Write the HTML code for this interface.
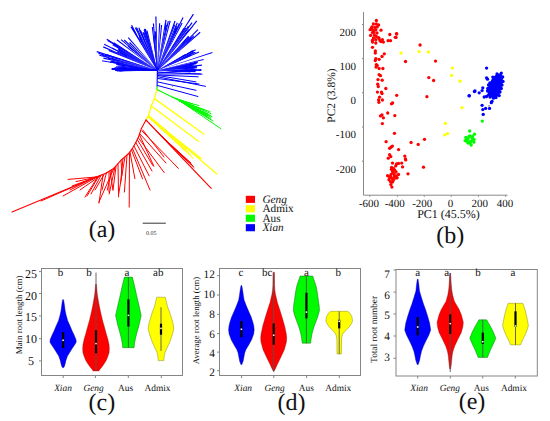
<!DOCTYPE html>
<html><head><meta charset="utf-8"><style>
html,body{margin:0;padding:0;background:#fff;width:550px;height:421px;overflow:hidden}
svg{display:block;font-family:"Liberation Serif",serif;text-rendering:geometricPrecision}
</style></head><body><svg width="550" height="421" viewBox="0 0 550 421"><g fill="none" stroke-linecap="round"><path d="M188.6 70.8L194.5 71.4" stroke="#0000ff" stroke-width="1.0"/><path d="M190.8 69.3L194.9 69.8" stroke="#0000ff" stroke-width="1.0"/><path d="M185.1 68.5L191.1 67.3" stroke="#0000ff" stroke-width="1.0"/><path d="M187.8 68.0L194.2 68.2" stroke="#0000ff" stroke-width="1.0"/><path d="M189.5 64.4L197.1 62.1" stroke="#0000ff" stroke-width="1.0"/><path d="M186.5 56.5L192.5 52.8" stroke="#0000ff" stroke-width="1.0"/><path d="M186.8 54.3L191.9 51.0" stroke="#0000ff" stroke-width="1.0"/><path d="M182.2 56.4L186.4 54.7" stroke="#0000ff" stroke-width="1.0"/><path d="M187.2 42.6L192.9 35.5" stroke="#0000ff" stroke-width="1.0"/><path d="M182.6 44.1L185.8 39.6" stroke="#0000ff" stroke-width="1.0"/><path d="M185.6 33.9L192.3 26.9" stroke="#0000ff" stroke-width="1.0"/><path d="M174.6 33.6L176.9 27.5" stroke="#0000ff" stroke-width="1.0"/><path d="M174.5 32.2L176.4 26.3" stroke="#0000ff" stroke-width="1.0"/><path d="M165.5 29.8L165.8 23.5" stroke="#0000ff" stroke-width="1.0"/><path d="M155.6 38.4L155.8 32.5" stroke="#0000ff" stroke-width="1.0"/><path d="M148.1 38.7L146.2 33.8" stroke="#0000ff" stroke-width="1.0"/><path d="M141.2 40.7L139.0 35.1" stroke="#0000ff" stroke-width="1.0"/><path d="M136.1 34.1L131.8 25.3" stroke="#0000ff" stroke-width="1.0"/><path d="M134.2 51.1L129.8 48.0" stroke="#0000ff" stroke-width="1.0"/><path d="M120.5 49.3L113.2 43.8" stroke="#0000ff" stroke-width="1.0"/><path d="M126.9 56.5L121.1 52.9" stroke="#0000ff" stroke-width="1.0"/><path d="M108.4 57.6L102.1 55.0" stroke="#0000ff" stroke-width="1.0"/><path d="M118.4 60.7L112.1 58.5" stroke="#0000ff" stroke-width="1.0"/><path d="M121.5 63.3L112.4 62.3" stroke="#0000ff" stroke-width="1.0"/><path d="M125.9 68.3L119.8 68.3" stroke="#0000ff" stroke-width="1.0"/><path d="M121.0 68.9L116.8 68.1" stroke="#0000ff" stroke-width="1.0"/><path d="M124.5 70.5L120.0 71.1" stroke="#0000ff" stroke-width="1.0"/><path d="M157.3 70.5L112.0 69.5" stroke="#0000ff" stroke-width="1.0"/><path d="M157.3 70.5L113.5 68.6" stroke="#0000ff" stroke-width="1.0"/><path d="M157.3 70.5L115.0 67.7" stroke="#0000ff" stroke-width="1.0"/><path d="M157.3 70.5L116.5 66.8" stroke="#0000ff" stroke-width="1.0"/><path d="M157.3 70.5L118.0 65.9" stroke="#0000ff" stroke-width="1.0"/><path d="M157.3 70.5L119.5 65.0" stroke="#0000ff" stroke-width="1.0"/><path d="M157.4 70.0L157.1 86.3" stroke="#0000ff" stroke-width="1.1"/><path d="M157.6 72.0L202.0 74.2" stroke="#0000ff" stroke-width="1.0"/><path d="M157.6 73.0L201.0 69.5" stroke="#0000ff" stroke-width="1.0"/><path d="M157.6 74.0L200.4 73.9" stroke="#0000ff" stroke-width="1.0"/><path d="M157.6 75.0L198.2 76.8" stroke="#0000ff" stroke-width="1.0"/><path d="M157.6 75.4L196.0 81.9" stroke="#0000ff" stroke-width="1.0"/><path d="M157.6 76.8L205.5 86.3" stroke="#0000ff" stroke-width="1.0"/><path d="M157.6 78.5L199.0 84.0" stroke="#0000ff" stroke-width="1.0"/><path d="M157.6 81.9L196.0 90.3" stroke="#0000ff" stroke-width="1.0"/><path d="M157.6 85.5L197.9 96.5" stroke="#0000ff" stroke-width="1.0"/><path d="M157.1 86.3L156.8 90.2" stroke="#00fa00" stroke-width="1.1"/><path d="M156.9 89.6L179.3 100.6" stroke="#00fa00" stroke-width="1.1"/><path d="M179.3 100.6L199.0 105.5" stroke="#00fa00" stroke-width="1.0"/><path d="M179.3 100.6L210.0 111.8" stroke="#00fa00" stroke-width="1.0"/><path d="M179.3 100.6L210.9 113.6" stroke="#00fa00" stroke-width="1.0"/><path d="M179.3 100.6L210.0 115.5" stroke="#00fa00" stroke-width="1.0"/><path d="M179.3 100.6L210.9 119.0" stroke="#00fa00" stroke-width="1.0"/><path d="M179.3 100.6L220.9 128.7" stroke="#00fa00" stroke-width="1.0"/><path d="M179.3 100.6L207.0 117.0" stroke="#00fa00" stroke-width="1.0"/><path d="M179.3 100.6L212.0 116.5" stroke="#00fa00" stroke-width="1.0"/><path d="M179.3 100.6L205.0 110.0" stroke="#00fa00" stroke-width="1.0"/><path d="M179.3 100.6L213.0 121.0" stroke="#00fa00" stroke-width="1.0"/><path d="M179.3 100.6L208.0 114.0" stroke="#00fa00" stroke-width="1.0"/><path d="M179.3 100.6L211.0 117.5" stroke="#00fa00" stroke-width="1.0"/><path d="M172.0 97.0L193.0 104.0" stroke="#00fa00" stroke-width="1.0"/><path d="M183.0 103.0L206.0 114.0" stroke="#00fa00" stroke-width="1.0"/><path d="M186.0 104.0L208.0 116.0" stroke="#00fa00" stroke-width="1.0"/><path d="M156.8 90.0L154.5 98.6" stroke="#ffff00" stroke-width="1.3"/><path d="M154.5 98.6L151.3 106.0" stroke="#ffff00" stroke-width="1.3"/><path d="M151.3 106.0L148.5 115.6" stroke="#ffff00" stroke-width="1.3"/><path d="M148.5 115.6L146.0 120.0" stroke="#ffff00" stroke-width="1.3"/><path d="M154.5 98.6L204.0 134.2" stroke="#ffff00" stroke-width="1.3"/><path d="M151.3 106.0L198.4 141.3" stroke="#ffff00" stroke-width="1.3"/><path d="M148.5 115.6L216.9 174.0" stroke="#ffff00" stroke-width="1.3"/><path d="M148.2 116.8L201.2 158.4" stroke="#ffff00" stroke-width="1.3"/><path d="M149.0 117.5L186.0 149.0" stroke="#ffff00" stroke-width="1.0"/><path d="M149.4 117.9L188.5 152.2" stroke="#ffff00" stroke-width="1.0"/><path d="M149.8 118.3L191.0 155.4" stroke="#ffff00" stroke-width="1.0"/><path d="M150.2 118.7L193.5 158.6" stroke="#ffff00" stroke-width="1.0"/><path d="M146.0 120.0L141.4 128.5" stroke="#ff0000" stroke-width="1.1"/><path d="M141.4 128.5L138.5 137.0" stroke="#ff0000" stroke-width="1.1"/><path d="M138.5 137.0L135.8 142.6" stroke="#ff0000" stroke-width="1.1"/><path d="M135.8 142.6L132.0 149.2" stroke="#ff0000" stroke-width="1.1"/><path d="M132.0 149.2L128.2 154.0" stroke="#ff0000" stroke-width="1.1"/><path d="M128.2 154.0L121.6 159.7" stroke="#ff0000" stroke-width="1.1"/><path d="M121.6 159.7L114.0 168.2" stroke="#ff0000" stroke-width="1.1"/><path d="M114.0 168.2L106.4 173.0" stroke="#ff0000" stroke-width="1.1"/><path d="M106.4 173.0L96.0 177.0" stroke="#ff0000" stroke-width="1.1"/><path d="M96.0 177.0L12.0 212.0" stroke="#ff0000" stroke-width="1.1"/><path d="M90.0 179.5L41.0 201.0" stroke="#ff0000" stroke-width="1.0"/><path d="M146.0 120.0L211.2 188.3" stroke="#ff0000" stroke-width="1.1"/><path d="M156.0 130.5L193.0 166.0" stroke="#ff0000" stroke-width="1.0"/><path d="M160.0 135.0L191.0 163.0" stroke="#ff0000" stroke-width="1.0"/><path d="M165.0 140.0L194.0 167.5" stroke="#ff0000" stroke-width="1.0"/><path d="M170.0 145.0L188.0 161.0" stroke="#ff0000" stroke-width="1.0"/><path d="M162.0 137.0L186.0 159.0" stroke="#ff0000" stroke-width="1.0"/><path d="M142.8 130.0L164.0 157.0" stroke="#ff0000" stroke-width="1.0"/><path d="M142.0 131.0L178.4 168.4" stroke="#ff0000" stroke-width="1.0"/><path d="M140.0 134.0L166.0 163.0" stroke="#ff0000" stroke-width="1.0"/><path d="M138.5 138.0L164.2 172.6" stroke="#ff0000" stroke-width="1.0"/><path d="M137.5 140.0L152.8 165.5" stroke="#ff0000" stroke-width="1.0"/><path d="M139.6 135.0L153.9 166.3" stroke="#ff0000" stroke-width="1.0"/><path d="M135.8 142.6L152.0 171.0" stroke="#ff0000" stroke-width="1.0"/><path d="M134.0 146.0L149.1 175.8" stroke="#ff0000" stroke-width="1.0"/><path d="M132.5 148.5L150.0 190.0" stroke="#ff0000" stroke-width="1.0"/><path d="M131.5 150.0L142.5 178.7" stroke="#ff0000" stroke-width="1.0"/><path d="M130.0 152.0L134.9 178.7" stroke="#ff0000" stroke-width="1.0"/><path d="M129.5 152.5L129.2 207.1" stroke="#ff0000" stroke-width="1.0"/><path d="M127.0 155.0L124.4 192.0" stroke="#ff0000" stroke-width="1.0"/><path d="M125.0 157.0L118.7 193.9" stroke="#ff0000" stroke-width="1.0"/><path d="M123.0 158.5L120.6 182.5" stroke="#ff0000" stroke-width="1.0"/><path d="M121.0 160.5L122.0 175.0" stroke="#ff0000" stroke-width="1.0"/><path d="M114.9 167.5L109.2 193.9" stroke="#ff0000" stroke-width="1.0"/><path d="M114.0 168.2L98.8 202.4" stroke="#ff0000" stroke-width="1.0"/><path d="M112.0 169.5L107.3 190.0" stroke="#ff0000" stroke-width="1.0"/><path d="M116.0 166.5L113.0 190.0" stroke="#ff0000" stroke-width="1.0"/><path d="M118.0 164.0L118.6 196.9" stroke="#ff0000" stroke-width="1.0"/><path d="M109.0 171.5L109.0 192.0" stroke="#ff0000" stroke-width="1.0"/><path d="M110.0 171.0L113.0 190.0" stroke="#ff0000" stroke-width="1.0"/><path d="M96.0 177.0L68.0 179.4" stroke="#ff0000" stroke-width="1.0"/><path d="M97.0 177.0L76.0 181.6" stroke="#ff0000" stroke-width="1.0"/><path d="M97.0 177.0L63.0 196.0" stroke="#ff0000" stroke-width="1.0"/><path d="M98.0 176.5L85.0 197.0" stroke="#ff0000" stroke-width="1.0"/><path d="M99.0 176.0L87.0 196.0" stroke="#ff0000" stroke-width="1.0"/><path d="M101.0 175.5L91.0 194.0" stroke="#ff0000" stroke-width="1.0"/><path d="M103.0 175.0L99.0 203.0" stroke="#ff0000" stroke-width="1.0"/><path d="M104.0 174.5L95.0 190.0" stroke="#ff0000" stroke-width="1.0"/><path d="M100.0 176.0L80.0 190.0" stroke="#ff0000" stroke-width="1.0"/><path d="M106.4 173.0L102.0 190.0" stroke="#ff0000" stroke-width="1.0"/><path d="M95.0 177.5L72.0 186.0" stroke="#ff0000" stroke-width="1.0"/><path d="M93.0 178.3L70.0 190.0" stroke="#ff0000" stroke-width="1.0"/></g><g><path d="M157.30 70.60 L201.40 71.10 L201.40 69.90 L157.30 70.40Z" fill="#0000ff"/><path d="M157.32 70.60 L203.74 60.05 L203.47 58.89 L157.28 70.40Z" fill="#0000ff"/><path d="M157.33 70.60 L212.62 53.05 L212.24 51.91 L157.27 70.40Z" fill="#0000ff"/><path d="M157.34 70.59 L199.23 52.57 L198.75 51.48 L157.26 70.41Z" fill="#0000ff"/><path d="M157.35 70.59 L195.90 50.22 L195.33 49.17 L157.25 70.41Z" fill="#0000ff"/><path d="M157.37 70.57 L200.56 32.76 L199.76 31.87 L157.23 70.43Z" fill="#0000ff"/><path d="M157.38 70.56 L197.24 21.26 L196.30 20.51 L157.22 70.44Z" fill="#0000ff"/><path d="M157.38 70.55 L193.90 14.38 L192.89 13.73 L157.22 70.45Z" fill="#0000ff"/><path d="M157.39 70.54 L183.57 17.78 L182.49 17.25 L157.21 70.46Z" fill="#0000ff"/><path d="M157.39 70.53 L175.60 21.18 L174.47 20.78 L157.21 70.47Z" fill="#0000ff"/><path d="M157.40 70.52 L166.55 19.94 L165.37 19.73 L157.20 70.48Z" fill="#0000ff"/><path d="M157.40 70.50 L156.48 16.40 L155.28 16.43 L157.20 70.50Z" fill="#0000ff"/><path d="M157.40 70.49 L152.96 27.11 L151.77 27.25 L157.20 70.51Z" fill="#0000ff"/><path d="M157.40 70.47 L145.08 28.75 L143.94 29.10 L157.20 70.53Z" fill="#0000ff"/><path d="M157.39 70.46 L139.42 27.46 L138.32 27.94 L157.21 70.54Z" fill="#0000ff"/><path d="M157.39 70.45 L131.52 26.26 L130.49 26.88 L157.21 70.55Z" fill="#0000ff"/><path d="M157.38 70.43 L128.72 37.17 L127.82 37.97 L157.22 70.57Z" fill="#0000ff"/><path d="M157.36 70.42 L121.49 39.13 L120.72 40.04 L157.24 70.58Z" fill="#0000ff"/><path d="M157.35 70.41 L107.08 38.78 L106.45 39.80 L157.25 70.59Z" fill="#0000ff"/><path d="M157.34 70.41 L104.40 43.69 L103.87 44.76 L157.26 70.59Z" fill="#0000ff"/><path d="M157.33 70.40 L96.95 51.07 L96.59 52.22 L157.27 70.60Z" fill="#0000ff"/><path d="M157.32 70.40 L102.25 60.18 L102.05 61.37 L157.28 70.60Z" fill="#0000ff"/><path d="M157.30 70.40 L111.67 67.99 L111.61 69.19 L157.30 70.60Z" fill="#0000ff"/><path d="M157.30 70.60 L190.78 72.60 L190.83 71.40 L157.30 70.40Z" fill="#0000ff"/><path d="M157.30 70.60 L195.57 72.19 L195.60 70.99 L157.30 70.40Z" fill="#0000ff"/><path d="M157.30 70.60 L195.29 71.46 L195.30 70.26 L157.30 70.40Z" fill="#0000ff"/><path d="M157.30 70.60 L196.17 70.72 L196.15 69.52 L157.30 70.40Z" fill="#0000ff"/><path d="M157.30 70.60 L196.72 69.70 L196.67 68.50 L157.30 70.40Z" fill="#0000ff"/><path d="M157.31 70.60 L193.46 68.44 L193.37 67.24 L157.29 70.40Z" fill="#0000ff"/><path d="M157.31 70.60 L197.11 67.79 L197.01 66.59 L157.29 70.40Z" fill="#0000ff"/><path d="M157.31 70.60 L196.82 66.95 L196.70 65.76 L157.29 70.40Z" fill="#0000ff"/><path d="M157.31 70.60 L201.98 65.63 L201.83 64.44 L157.29 70.40Z" fill="#0000ff"/><path d="M157.31 70.60 L192.60 66.24 L192.44 65.05 L157.29 70.40Z" fill="#0000ff"/><path d="M157.32 70.60 L194.25 65.42 L194.07 64.23 L157.28 70.40Z" fill="#0000ff"/><path d="M157.32 70.60 L196.30 64.30 L196.09 63.12 L157.28 70.40Z" fill="#0000ff"/><path d="M157.32 70.60 L197.20 63.54 L196.97 62.36 L157.28 70.40Z" fill="#0000ff"/><path d="M157.32 70.60 L197.89 62.67 L197.64 61.50 L157.28 70.40Z" fill="#0000ff"/><path d="M157.34 70.59 L191.20 55.73 L190.70 54.64 L157.26 70.41Z" fill="#0000ff"/><path d="M157.34 70.59 L195.72 52.76 L195.20 51.68 L157.26 70.41Z" fill="#0000ff"/><path d="M157.34 70.59 L193.95 52.79 L193.41 51.72 L157.26 70.41Z" fill="#0000ff"/><path d="M157.35 70.59 L193.76 51.13 L193.18 50.08 L157.25 70.41Z" fill="#0000ff"/><path d="M157.35 70.59 L185.83 55.03 L185.24 53.99 L157.25 70.41Z" fill="#0000ff"/><path d="M157.37 70.57 L194.28 36.87 L193.46 35.99 L157.23 70.43Z" fill="#0000ff"/><path d="M157.37 70.57 L191.42 38.11 L190.59 37.26 L157.23 70.43Z" fill="#0000ff"/><path d="M157.37 70.57 L198.34 30.11 L197.49 29.26 L157.23 70.43Z" fill="#0000ff"/><path d="M157.37 70.57 L189.75 37.44 L188.88 36.61 L157.23 70.43Z" fill="#0000ff"/><path d="M157.37 70.57 L189.02 36.56 L188.13 35.75 L157.23 70.43Z" fill="#0000ff"/><path d="M157.38 70.56 L189.39 29.97 L188.44 29.23 L157.22 70.44Z" fill="#0000ff"/><path d="M157.38 70.56 L192.54 23.05 L191.57 22.34 L157.22 70.44Z" fill="#0000ff"/><path d="M157.38 70.56 L189.05 26.35 L188.06 25.66 L157.22 70.44Z" fill="#0000ff"/><path d="M157.38 70.56 L186.25 28.14 L185.25 27.48 L157.22 70.44Z" fill="#0000ff"/><path d="M157.38 70.55 L184.48 28.55 L183.46 27.91 L157.22 70.45Z" fill="#0000ff"/><path d="M157.39 70.55 L182.62 23.32 L181.56 22.77 L157.21 70.45Z" fill="#0000ff"/><path d="M157.39 70.54 L179.90 23.81 L178.82 23.30 L157.21 70.46Z" fill="#0000ff"/><path d="M157.39 70.54 L177.05 27.90 L175.96 27.41 L157.21 70.46Z" fill="#0000ff"/><path d="M157.39 70.54 L177.87 22.97 L176.77 22.51 L157.21 70.46Z" fill="#0000ff"/><path d="M157.39 70.54 L175.31 24.81 L174.19 24.39 L157.21 70.46Z" fill="#0000ff"/><path d="M157.40 70.53 L170.73 21.01 L169.57 20.71 L157.20 70.47Z" fill="#0000ff"/><path d="M157.40 70.52 L168.88 21.34 L167.71 21.08 L157.20 70.48Z" fill="#0000ff"/><path d="M157.40 70.52 L167.09 25.09 L165.92 24.85 L157.20 70.48Z" fill="#0000ff"/><path d="M157.40 70.51 L162.15 25.03 L160.95 24.92 L157.20 70.49Z" fill="#0000ff"/><path d="M157.40 70.50 L160.24 23.28 L159.04 23.22 L157.20 70.50Z" fill="#0000ff"/><path d="M157.40 70.49 L155.78 31.21 L154.58 31.27 L157.20 70.51Z" fill="#0000ff"/><path d="M157.40 70.49 L154.01 23.43 L152.81 23.53 L157.20 70.51Z" fill="#0000ff"/><path d="M157.40 70.49 L154.22 36.29 L153.03 36.42 L157.20 70.51Z" fill="#0000ff"/><path d="M157.40 70.47 L147.48 30.49 L146.32 30.80 L157.20 70.53Z" fill="#0000ff"/><path d="M157.40 70.47 L145.84 28.85 L144.69 29.18 L157.20 70.53Z" fill="#0000ff"/><path d="M157.40 70.47 L144.69 29.69 L143.55 30.06 L157.20 70.53Z" fill="#0000ff"/><path d="M157.39 70.47 L144.48 32.28 L143.35 32.68 L157.21 70.53Z" fill="#0000ff"/><path d="M157.39 70.46 L143.48 31.96 L142.36 32.38 L157.21 70.54Z" fill="#0000ff"/><path d="M157.39 70.46 L141.18 30.53 L140.08 31.00 L157.21 70.54Z" fill="#0000ff"/><path d="M157.39 70.46 L140.09 29.89 L138.99 30.37 L157.21 70.54Z" fill="#0000ff"/><path d="M157.39 70.46 L137.00 27.25 L135.92 27.78 L157.21 70.54Z" fill="#0000ff"/><path d="M157.39 70.45 L135.95 27.35 L134.88 27.90 L157.21 70.55Z" fill="#0000ff"/><path d="M157.39 70.45 L139.99 37.19 L138.94 37.76 L157.21 70.55Z" fill="#0000ff"/><path d="M157.39 70.45 L132.72 27.08 L131.68 27.69 L157.21 70.55Z" fill="#0000ff"/><path d="M157.37 70.43 L129.97 42.09 L129.12 42.94 L157.23 70.57Z" fill="#0000ff"/><path d="M157.37 70.43 L124.62 39.62 L123.81 40.50 L157.23 70.57Z" fill="#0000ff"/><path d="M157.36 70.42 L128.48 45.52 L127.71 46.44 L157.24 70.58Z" fill="#0000ff"/><path d="M157.36 70.42 L117.21 39.36 L116.49 40.31 L157.24 70.58Z" fill="#0000ff"/><path d="M157.35 70.42 L114.05 42.32 L113.41 43.33 L157.25 70.58Z" fill="#0000ff"/><path d="M157.35 70.41 L107.99 39.91 L107.37 40.93 L157.25 70.59Z" fill="#0000ff"/><path d="M157.35 70.41 L113.01 44.32 L112.41 45.36 L157.25 70.59Z" fill="#0000ff"/><path d="M157.35 70.41 L118.15 48.13 L117.57 49.18 L157.25 70.59Z" fill="#0000ff"/><path d="M157.35 70.41 L118.88 49.58 L118.32 50.64 L157.25 70.59Z" fill="#0000ff"/><path d="M157.34 70.41 L112.07 47.52 L111.54 48.60 L157.26 70.59Z" fill="#0000ff"/><path d="M157.34 70.41 L117.46 51.45 L116.96 52.54 L157.26 70.59Z" fill="#0000ff"/><path d="M157.34 70.41 L103.47 46.28 L102.99 47.38 L157.26 70.59Z" fill="#0000ff"/><path d="M157.34 70.41 L108.97 49.80 L108.51 50.91 L157.26 70.59Z" fill="#0000ff"/><path d="M157.33 70.40 L106.25 54.00 L105.89 55.15 L157.27 70.60Z" fill="#0000ff"/><path d="M157.33 70.40 L98.61 52.79 L98.28 53.94 L157.27 70.60Z" fill="#0000ff"/><path d="M157.33 70.40 L99.58 54.67 L99.28 55.83 L157.27 70.60Z" fill="#0000ff"/><path d="M157.32 70.40 L108.21 57.54 L107.92 58.70 L157.28 70.60Z" fill="#0000ff"/><path d="M157.32 70.40 L103.55 57.55 L103.28 58.72 L157.28 70.60Z" fill="#0000ff"/><path d="M157.32 70.40 L111.14 60.61 L110.91 61.79 L157.28 70.60Z" fill="#0000ff"/><path d="M157.32 70.40 L109.93 61.23 L109.71 62.42 L157.28 70.60Z" fill="#0000ff"/><path d="M157.32 70.40 L116.22 63.49 L116.04 64.68 L157.28 70.60Z" fill="#0000ff"/><path d="M157.31 70.40 L118.32 67.10 L118.24 68.30 L157.29 70.60Z" fill="#0000ff"/><path d="M157.31 70.40 L123.32 67.91 L123.25 69.11 L157.29 70.60Z" fill="#0000ff"/><path d="M157.30 70.40 L117.81 68.19 L117.76 69.39 L157.30 70.60Z" fill="#0000ff"/><path d="M157.30 70.40 L124.12 68.82 L124.08 70.02 L157.30 70.60Z" fill="#0000ff"/><path d="M157.30 70.40 L123.26 69.26 L123.23 70.46 L157.30 70.60Z" fill="#0000ff"/><path d="M157.30 70.40 L115.06 69.91 L115.06 71.11 L157.30 70.60Z" fill="#0000ff"/><path d="M157.30 70.40 L116.86 70.18 L116.87 71.38 L157.30 70.60Z" fill="#0000ff"/></g><rect x="245.8" y="195.80" width="9.2" height="7.1" fill="#ff0000"/><rect x="245.8" y="205.25" width="9.2" height="7.1" fill="#ffff00"/><rect x="245.8" y="214.70" width="9.2" height="7.1" fill="#00fa00"/><rect x="245.8" y="224.15" width="9.2" height="7.1" fill="#0000ff"/><g font-family="Liberation Serif" font-size="11.3" fill="#111"><text x="262.4" y="203" font-style="italic">Geng</text><text x="262.4" y="212.4">Admix</text><text x="262.4" y="221.6">Aus</text><text x="262.4" y="231" font-style="italic">Xian</text></g><text x="102" y="236.7" font-family="Liberation Serif" font-size="24" fill="#111" text-anchor="middle">(a)</text><line x1="142.7" y1="223.2" x2="165.8" y2="223.2" stroke="#333" stroke-width="1"/><text x="146.1" y="234.6" font-family="Liberation Serif" font-size="6" fill="#333">0.05</text><path d="M363.5 12V195.2H507.6" fill="none" stroke="#888" stroke-width="1"/><line x1="362.0" y1="24.5" x2="363.5" y2="24.5" stroke="#888" stroke-width="1"/><text x="356" y="35.8" font-family="Liberation Serif" font-size="11" fill="#111" text-anchor="end">200</text><line x1="362.0" y1="58.6" x2="363.5" y2="58.6" stroke="#888" stroke-width="1"/><text x="356" y="69.9" font-family="Liberation Serif" font-size="11" fill="#111" text-anchor="end">100</text><line x1="362.0" y1="92.7" x2="363.5" y2="92.7" stroke="#888" stroke-width="1"/><text x="356" y="104.0" font-family="Liberation Serif" font-size="11" fill="#111" text-anchor="end">0</text><line x1="362.0" y1="127.0" x2="363.5" y2="127.0" stroke="#888" stroke-width="1"/><text x="356" y="138.3" font-family="Liberation Serif" font-size="11" fill="#111" text-anchor="end">-100</text><line x1="362.0" y1="161.2" x2="363.5" y2="161.2" stroke="#888" stroke-width="1"/><text x="356" y="172.5" font-family="Liberation Serif" font-size="11" fill="#111" text-anchor="end">-200</text><line x1="369.8" y1="195.2" x2="369.8" y2="197.0" stroke="#888" stroke-width="0.8"/><line x1="397.4" y1="195.2" x2="397.4" y2="197.0" stroke="#888" stroke-width="0.8"/><line x1="424.3" y1="195.2" x2="424.3" y2="197.0" stroke="#888" stroke-width="0.8"/><line x1="451.2" y1="195.2" x2="451.2" y2="197.0" stroke="#888" stroke-width="0.8"/><line x1="478.4" y1="195.2" x2="478.4" y2="197.0" stroke="#888" stroke-width="0.8"/><line x1="505.6" y1="195.2" x2="505.6" y2="197.0" stroke="#888" stroke-width="0.8"/><text x="369" y="206.6" font-family="Liberation Serif" font-size="11" fill="#111" text-anchor="middle">-600</text><text x="394.8" y="206.6" font-family="Liberation Serif" font-size="11" fill="#111" text-anchor="middle">-400</text><text x="422.3" y="206.6" font-family="Liberation Serif" font-size="11" fill="#111" text-anchor="middle">-200</text><text x="450.5" y="206.6" font-family="Liberation Serif" font-size="11" fill="#111" text-anchor="middle">0</text><text x="479.8" y="206.6" font-family="Liberation Serif" font-size="11" fill="#111" text-anchor="middle">200</text><text x="505" y="206.6" font-family="Liberation Serif" font-size="11" fill="#111" text-anchor="middle">400</text><text x="448.5" y="218.3" font-family="Liberation Serif" font-size="12" fill="#111" text-anchor="middle">PC1 (45.5%)</text><text transform="translate(335.3 95.6) rotate(-90)" font-family="Liberation Serif" font-size="11.5" fill="#111" text-anchor="middle">PC2 (3.8%)</text><text x="450.2" y="242.7" font-family="Liberation Serif" font-size="24" fill="#111" text-anchor="middle">(b)</text><g><path d="M492.8 77.1 L497.0 74.0 L501.3 73.1 L502.7 77.0 L503.0 81.4 L502.0 85.0 L501.3 88.5 L500.0 92.0 L499.2 95.6 L496.0 97.5 L493.5 98.2 L490.0 97.0 L488.5 94.9 L487.5 91.0 L487.8 88.5 L488.5 85.0 L489.9 82.8Z" fill="#0000ff"/><circle cx="492.8" cy="77.1" r="1.65" fill="#0000ff"/><circle cx="497.0" cy="74.0" r="1.65" fill="#0000ff"/><circle cx="501.3" cy="73.1" r="1.65" fill="#0000ff"/><circle cx="502.7" cy="77.0" r="1.65" fill="#0000ff"/><circle cx="503.0" cy="81.4" r="1.65" fill="#0000ff"/><circle cx="502.0" cy="85.0" r="1.65" fill="#0000ff"/><circle cx="501.3" cy="88.5" r="1.65" fill="#0000ff"/><circle cx="500.0" cy="92.0" r="1.65" fill="#0000ff"/><circle cx="499.2" cy="95.6" r="1.65" fill="#0000ff"/><circle cx="496.0" cy="97.5" r="1.65" fill="#0000ff"/><circle cx="493.5" cy="98.2" r="1.65" fill="#0000ff"/><circle cx="490.0" cy="97.0" r="1.65" fill="#0000ff"/><circle cx="488.5" cy="94.9" r="1.65" fill="#0000ff"/><circle cx="487.5" cy="91.0" r="1.65" fill="#0000ff"/><circle cx="487.8" cy="88.5" r="1.65" fill="#0000ff"/><circle cx="488.5" cy="85.0" r="1.65" fill="#0000ff"/><circle cx="489.9" cy="82.8" r="1.65" fill="#0000ff"/><circle cx="486.6" cy="68.1" r="1.65" fill="#0000ff"/><circle cx="486.6" cy="77.8" r="1.65" fill="#0000ff"/><circle cx="487.5" cy="79.2" r="1.65" fill="#0000ff"/><circle cx="482.8" cy="87.8" r="1.65" fill="#0000ff"/><circle cx="482.1" cy="90.6" r="1.65" fill="#0000ff"/><circle cx="475" cy="91" r="1.65" fill="#0000ff"/><circle cx="479.2" cy="92.8" r="1.65" fill="#0000ff"/><circle cx="469.3" cy="95.6" r="1.65" fill="#0000ff"/><circle cx="484.2" cy="97" r="1.65" fill="#0000ff"/><circle cx="486.5" cy="96.5" r="1.65" fill="#0000ff"/><circle cx="492" cy="101.3" r="1.65" fill="#0000ff"/><circle cx="491.3" cy="102.7" r="1.65" fill="#0000ff"/><circle cx="482.1" cy="105.3" r="1.65" fill="#0000ff"/><circle cx="482.8" cy="109.6" r="1.65" fill="#0000ff"/><circle cx="485.6" cy="108.4" r="1.65" fill="#0000ff"/><circle cx="489.5" cy="108.4" r="1.65" fill="#0000ff"/><circle cx="483.2" cy="114.4" r="1.65" fill="#0000ff"/><circle cx="474.4" cy="91.5" r="1.65" fill="#0000ff"/><circle cx="469.1" cy="95.9" r="1.65" fill="#0000ff"/><circle cx="376.4" cy="20.5" r="1.65" fill="#ff0000"/><circle cx="373.4" cy="24" r="1.65" fill="#ff0000"/><circle cx="376.3" cy="24" r="1.65" fill="#ff0000"/><circle cx="378.6" cy="25" r="1.65" fill="#ff0000"/><circle cx="372" cy="26.9" r="1.65" fill="#ff0000"/><circle cx="374.8" cy="27.4" r="1.65" fill="#ff0000"/><circle cx="377.2" cy="26.9" r="1.65" fill="#ff0000"/><circle cx="370.1" cy="29.7" r="1.65" fill="#ff0000"/><circle cx="372.9" cy="30.2" r="1.65" fill="#ff0000"/><circle cx="375.8" cy="29.7" r="1.65" fill="#ff0000"/><circle cx="381" cy="30.2" r="1.65" fill="#ff0000"/><circle cx="372.5" cy="32.6" r="1.65" fill="#ff0000"/><circle cx="370.6" cy="35.4" r="1.65" fill="#ff0000"/><circle cx="374.4" cy="35" r="1.65" fill="#ff0000"/><circle cx="376.3" cy="36.4" r="1.65" fill="#ff0000"/><circle cx="378.6" cy="37.6" r="1.65" fill="#ff0000"/><circle cx="389.8" cy="34.5" r="1.65" fill="#ff0000"/><circle cx="396.7" cy="34" r="1.65" fill="#ff0000"/><circle cx="395.3" cy="37.3" r="1.65" fill="#ff0000"/><circle cx="372.5" cy="40.2" r="1.65" fill="#ff0000"/><circle cx="375.8" cy="39.7" r="1.65" fill="#ff0000"/><circle cx="372.5" cy="42.1" r="1.65" fill="#ff0000"/><circle cx="375.8" cy="43" r="1.65" fill="#ff0000"/><circle cx="380" cy="40.7" r="1.65" fill="#ff0000"/><circle cx="382.4" cy="39.7" r="1.65" fill="#ff0000"/><circle cx="383.4" cy="42.1" r="1.65" fill="#ff0000"/><circle cx="388.1" cy="40.7" r="1.65" fill="#ff0000"/><circle cx="390.5" cy="40.7" r="1.65" fill="#ff0000"/><circle cx="372.5" cy="47.3" r="1.65" fill="#ff0000"/><circle cx="375.3" cy="50.9" r="1.65" fill="#ff0000"/><circle cx="375.3" cy="53" r="1.65" fill="#ff0000"/><circle cx="384.3" cy="53.8" r="1.65" fill="#ff0000"/><circle cx="382" cy="56.5" r="1.65" fill="#ff0000"/><circle cx="375.8" cy="58.6" r="1.65" fill="#ff0000"/><circle cx="375.3" cy="60.5" r="1.65" fill="#ff0000"/><circle cx="379.1" cy="59.3" r="1.65" fill="#ff0000"/><circle cx="376.3" cy="64.7" r="1.65" fill="#ff0000"/><circle cx="377.2" cy="65.5" r="1.65" fill="#ff0000"/><circle cx="376.1" cy="67.1" r="1.65" fill="#ff0000"/><circle cx="379.1" cy="68.5" r="1.65" fill="#ff0000"/><circle cx="382.9" cy="68.5" r="1.65" fill="#ff0000"/><circle cx="379.1" cy="74.7" r="1.65" fill="#ff0000"/><circle cx="380.5" cy="75.7" r="1.65" fill="#ff0000"/><circle cx="378" cy="79.6" r="1.65" fill="#ff0000"/><circle cx="382.2" cy="80.2" r="1.65" fill="#ff0000"/><circle cx="377.7" cy="84.2" r="1.65" fill="#ff0000"/><circle cx="378.3" cy="86.6" r="1.65" fill="#ff0000"/><circle cx="385.8" cy="88.5" r="1.65" fill="#ff0000"/><circle cx="377.4" cy="92.1" r="1.65" fill="#ff0000"/><circle cx="381.5" cy="92.1" r="1.65" fill="#ff0000"/><circle cx="382" cy="93.6" r="1.65" fill="#ff0000"/><circle cx="396.7" cy="95.3" r="1.65" fill="#ff0000"/><circle cx="379.6" cy="97.2" r="1.65" fill="#ff0000"/><circle cx="378.6" cy="100" r="1.65" fill="#ff0000"/><circle cx="382.4" cy="100" r="1.65" fill="#ff0000"/><circle cx="378.9" cy="102.3" r="1.65" fill="#ff0000"/><circle cx="391.5" cy="103.8" r="1.65" fill="#ff0000"/><circle cx="392.6" cy="102.9" r="1.65" fill="#ff0000"/><circle cx="387.7" cy="113" r="1.65" fill="#ff0000"/><circle cx="380.5" cy="115.9" r="1.65" fill="#ff0000"/><circle cx="382" cy="114.9" r="1.65" fill="#ff0000"/><circle cx="383.4" cy="117.8" r="1.65" fill="#ff0000"/><circle cx="394.8" cy="115.6" r="1.65" fill="#ff0000"/><circle cx="382.4" cy="123.6" r="1.65" fill="#ff0000"/><circle cx="394.5" cy="133.3" r="1.65" fill="#ff0000"/><circle cx="386.1" cy="141.7" r="1.65" fill="#ff0000"/><circle cx="411.1" cy="142.5" r="1.65" fill="#ff0000"/><circle cx="392.4" cy="146.1" r="1.65" fill="#ff0000"/><circle cx="389.6" cy="148.3" r="1.65" fill="#ff0000"/><circle cx="391" cy="147.2" r="1.65" fill="#ff0000"/><circle cx="398.6" cy="149.6" r="1.65" fill="#ff0000"/><circle cx="389.6" cy="154.7" r="1.65" fill="#ff0000"/><circle cx="390.8" cy="156.6" r="1.65" fill="#ff0000"/><circle cx="388.3" cy="158.2" r="1.65" fill="#ff0000"/><circle cx="404.8" cy="156.1" r="1.65" fill="#ff0000"/><circle cx="405.4" cy="158.8" r="1.65" fill="#ff0000"/><circle cx="405.7" cy="159.9" r="1.65" fill="#ff0000"/><circle cx="392.5" cy="163.1" r="1.65" fill="#ff0000"/><circle cx="396.6" cy="164" r="1.65" fill="#ff0000"/><circle cx="398.5" cy="163.4" r="1.65" fill="#ff0000"/><circle cx="401.7" cy="163.1" r="1.65" fill="#ff0000"/><circle cx="395.7" cy="165.9" r="1.65" fill="#ff0000"/><circle cx="402.6" cy="166.9" r="1.65" fill="#ff0000"/><circle cx="391.6" cy="167.4" r="1.65" fill="#ff0000"/><circle cx="391.4" cy="169.3" r="1.65" fill="#ff0000"/><circle cx="394.7" cy="170.2" r="1.65" fill="#ff0000"/><circle cx="392.8" cy="172.6" r="1.65" fill="#ff0000"/><circle cx="398.5" cy="174.5" r="1.65" fill="#ff0000"/><circle cx="408" cy="173.8" r="1.65" fill="#ff0000"/><circle cx="387.6" cy="175.7" r="1.65" fill="#ff0000"/><circle cx="390.5" cy="176.4" r="1.65" fill="#ff0000"/><circle cx="394.3" cy="176.4" r="1.65" fill="#ff0000"/><circle cx="396.2" cy="175.9" r="1.65" fill="#ff0000"/><circle cx="391.9" cy="178.3" r="1.65" fill="#ff0000"/><circle cx="389" cy="179.7" r="1.65" fill="#ff0000"/><circle cx="393.3" cy="179.7" r="1.65" fill="#ff0000"/><circle cx="397.1" cy="177.8" r="1.65" fill="#ff0000"/><circle cx="390.5" cy="181.6" r="1.65" fill="#ff0000"/><circle cx="392.4" cy="182.1" r="1.65" fill="#ff0000"/><circle cx="390.9" cy="184.5" r="1.65" fill="#ff0000"/><circle cx="391.9" cy="187.1" r="1.65" fill="#ff0000"/><circle cx="371.5" cy="28" r="1.65" fill="#ff0000"/><circle cx="374" cy="32" r="1.65" fill="#ff0000"/><circle cx="377" cy="33" r="1.65" fill="#ff0000"/><circle cx="373.5" cy="38" r="1.65" fill="#ff0000"/><circle cx="379" cy="38.5" r="1.65" fill="#ff0000"/><circle cx="381" cy="41.5" r="1.65" fill="#ff0000"/><circle cx="393.5" cy="168.5" r="1.65" fill="#ff0000"/><circle cx="392.5" cy="171" r="1.65" fill="#ff0000"/><circle cx="394" cy="174" r="1.65" fill="#ff0000"/><circle cx="391" cy="174.5" r="1.65" fill="#ff0000"/><circle cx="395.5" cy="178" r="1.65" fill="#ff0000"/><circle cx="393" cy="181" r="1.65" fill="#ff0000"/><circle cx="389.5" cy="177.5" r="1.65" fill="#ff0000"/><circle cx="396" cy="172" r="1.65" fill="#ff0000"/><circle cx="420.1" cy="45" r="1.65" fill="#ff0000"/><circle cx="405.5" cy="61.5" r="1.65" fill="#ff0000"/><circle cx="435.5" cy="61.1" r="1.65" fill="#ff0000"/><circle cx="428.8" cy="77.6" r="1.65" fill="#ff0000"/><circle cx="433.6" cy="80.5" r="1.65" fill="#ff0000"/><circle cx="426.9" cy="96.7" r="1.65" fill="#ff0000"/><circle cx="424.5" cy="139.3" r="1.65" fill="#ff0000"/><circle cx="418.2" cy="144.4" r="1.65" fill="#ff0000"/><circle cx="423.5" cy="167.2" r="1.65" fill="#ff0000"/><circle cx="396.5" cy="33.6" r="1.65" fill="#ff0000"/><circle cx="396" cy="37.4" r="1.65" fill="#ff0000"/><circle cx="401.1" cy="53.1" r="1.65" fill="#ffff00"/><circle cx="419.1" cy="51.6" r="1.65" fill="#ffff00"/><circle cx="428.3" cy="52" r="1.65" fill="#ffff00"/><circle cx="452.4" cy="68.1" r="1.65" fill="#ffff00"/><circle cx="451.6" cy="75.4" r="1.65" fill="#ffff00"/><circle cx="460" cy="81.2" r="1.65" fill="#ffff00"/><circle cx="462" cy="107.6" r="1.65" fill="#ffff00"/><circle cx="445.4" cy="123.4" r="1.65" fill="#ffff00"/><circle cx="444.8" cy="134.9" r="1.65" fill="#ffff00"/><circle cx="447.6" cy="133.6" r="1.65" fill="#ffff00"/><circle cx="467" cy="139.5" r="1.65" fill="#00fa00"/><circle cx="470" cy="143.2" r="1.65" fill="#00fa00"/><circle cx="472.5" cy="140" r="1.65" fill="#00fa00"/><circle cx="469" cy="136.5" r="1.65" fill="#00fa00"/><circle cx="482.3" cy="121.1" r="1.65" fill="#00fa00"/><circle cx="469.7" cy="131" r="1.65" fill="#00fa00"/><circle cx="474.5" cy="134.2" r="1.65" fill="#00fa00"/><circle cx="465.8" cy="137.5" r="1.65" fill="#00fa00"/><circle cx="470" cy="136" r="1.65" fill="#00fa00"/><circle cx="472" cy="138" r="1.65" fill="#00fa00"/><circle cx="468" cy="139" r="1.65" fill="#00fa00"/><circle cx="465.1" cy="140.7" r="1.65" fill="#00fa00"/><circle cx="473.8" cy="142.2" r="1.65" fill="#00fa00"/><circle cx="471.2" cy="145.1" r="1.65" fill="#00fa00"/><circle cx="468" cy="143" r="1.65" fill="#00fa00"/><circle cx="474" cy="139.5" r="1.65" fill="#00fa00"/><circle cx="470.5" cy="141.5" r="1.65" fill="#00fa00"/><circle cx="467" cy="141.5" r="1.65" fill="#00fa00"/><circle cx="472.5" cy="136.5" r="1.65" fill="#00fa00"/></g><path d="M488.3 105L489.7 106.5M489.7 105L488.3 106.5" stroke="#555" stroke-width="0.6"/><path d="M171.8 85.6L172.8 87" stroke="#666" stroke-width="0.6"/><rect x="41.5" y="268.5" width="141.0" height="107.0" fill="none" stroke="#858585" stroke-width="1"/><line x1="39.0" y1="271.6" x2="41.5" y2="271.6" stroke="#858585" stroke-width="1"/><text x="31.1" y="278.3" font-family="Liberation Serif" font-size="12" fill="#111" text-anchor="middle">25</text><line x1="39.0" y1="293.5" x2="41.5" y2="293.5" stroke="#858585" stroke-width="1"/><text x="31.1" y="300.0" font-family="Liberation Serif" font-size="12" fill="#111" text-anchor="middle">20</text><line x1="39.0" y1="315.9" x2="41.5" y2="315.9" stroke="#858585" stroke-width="1"/><text x="31.1" y="321.4" font-family="Liberation Serif" font-size="12" fill="#111" text-anchor="middle">15</text><line x1="39.0" y1="338.7" x2="41.5" y2="338.7" stroke="#858585" stroke-width="1"/><text x="31.1" y="342.8" font-family="Liberation Serif" font-size="12" fill="#111" text-anchor="middle">10</text><line x1="39.0" y1="360.9" x2="41.5" y2="360.9" stroke="#858585" stroke-width="1"/><text x="31.1" y="364.5" font-family="Liberation Serif" font-size="12" fill="#111" text-anchor="middle">5</text><line x1="63.2" y1="375.5" x2="63.2" y2="378.0" stroke="#858585" stroke-width="1"/><line x1="95.4" y1="375.5" x2="95.4" y2="378.0" stroke="#858585" stroke-width="1"/><line x1="128.3" y1="375.5" x2="128.3" y2="378.0" stroke="#858585" stroke-width="1"/><line x1="161.3" y1="375.5" x2="161.3" y2="378.0" stroke="#858585" stroke-width="1"/><text x="63" y="391.2" font-family="Liberation Serif" font-size="9.4" fill="#111" text-anchor="middle" font-style="italic">Xian</text><text x="93.6" y="391.2" font-family="Liberation Serif" font-size="9.4" fill="#111" text-anchor="middle" font-style="italic">Geng</text><text x="125.6" y="391.2" font-family="Liberation Serif" font-size="9.4" fill="#111" text-anchor="middle">Aus</text><text x="157.5" y="391.2" font-family="Liberation Serif" font-size="9.4" fill="#111" text-anchor="middle">Admix</text><text x="60.4" y="276.2" font-family="Liberation Serif" font-size="11" fill="#111" text-anchor="middle">b</text><text x="89.1" y="276.2" font-family="Liberation Serif" font-size="11" fill="#111" text-anchor="middle">b</text><text x="127" y="276.2" font-family="Liberation Serif" font-size="11" fill="#111" text-anchor="middle">a</text><text x="158.3" y="276.2" font-family="Liberation Serif" font-size="11" fill="#111" text-anchor="middle">ab</text><text transform="translate(21.8 314.9) rotate(-90)" font-family="Liberation Serif" font-size="8.9" fill="#111" text-anchor="middle">Main root length (cm)</text><text x="101.85" y="410" font-family="Liberation Serif" font-size="24" fill="#111" text-anchor="middle">(c)</text><path d="M62.60 299.70 L61.90 304.00 L61.10 310.20 L60.10 315.00 L58.50 320.80 L56.10 326.00 L53.90 331.30 L52.10 335.00 L50.30 339.20 L49.90 342.00 L51.30 344.50 L53.70 348.00 L56.50 352.40 L58.70 356.00 L60.20 360.30 L61.10 364.00 L61.80 366.50 L62.70 367.70 L63.50 367.70 L64.40 366.50 L65.10 364.00 L66.00 360.30 L67.50 356.00 L69.70 352.40 L72.50 348.00 L74.90 344.50 L76.30 342.00 L75.90 339.20 L74.10 335.00 L72.30 331.30 L70.10 326.00 L67.70 320.80 L66.10 315.00 L65.10 310.20 L64.30 304.00 L63.60 299.70Z" fill="#0000ff" stroke="#000090" stroke-width="0.4" stroke-linejoin="round"/><rect x="62.00" y="332" width="2.2" height="16.00" fill="#000"/><rect x="62.30" y="339.50" width="1.6" height="1.6" fill="#fff"/><path d="M95.60 284.30 L95.10 290.00 L94.70 294.40 L93.80 300.00 L92.40 307.60 L91.00 314.00 L89.40 320.80 L87.60 327.00 L85.70 334.00 L84.20 339.00 L83.00 344.50 L82.70 348.00 L82.90 352.40 L84.00 356.00 L85.70 360.30 L88.00 364.00 L90.10 366.90 L91.80 369.00 L93.20 370.90 L98.80 370.90 L100.20 369.00 L101.90 366.90 L104.00 364.00 L106.30 360.30 L108.00 356.00 L109.10 352.40 L109.30 348.00 L109.00 344.50 L107.80 339.00 L106.30 334.00 L104.40 327.00 L102.60 320.80 L101.00 314.00 L99.60 307.60 L98.20 300.00 L97.30 294.40 L96.90 290.00 L96.40 284.30Z" fill="#ff0000" stroke="#900000" stroke-width="0.4" stroke-linejoin="round"/><line x1="96" y1="272.6" x2="96" y2="370.5" stroke="#555" stroke-width="0.9"/><rect x="94.90" y="330.2" width="2.2" height="23.00" fill="#000"/><rect x="95.20" y="342.80" width="1.6" height="1.6" fill="#fff"/><path d="M124.40 277.10 L122.20 286.00 L120.20 295.20 L117.90 305.00 L115.60 315.40 L116.60 320.00 L117.80 325.50 L119.40 331.00 L121.10 337.60 L122.20 343.00 L122.70 347.70 L134.10 347.70 L134.60 343.00 L135.70 337.60 L137.40 331.00 L139.00 325.50 L140.20 320.00 L141.20 315.40 L138.90 305.00 L136.60 295.20 L134.60 286.00 L132.40 277.10Z" fill="#00fa00" stroke="#005000" stroke-width="0.4" stroke-linejoin="round"/><line x1="128.4" y1="277.1" x2="128.4" y2="347.7" stroke="#555" stroke-width="0.9"/><rect x="127.30" y="299.3" width="2.2" height="27.20" fill="#000"/><rect x="127.60" y="314.60" width="1.6" height="1.6" fill="#fff"/><path d="M156.70 297.20 L155.80 301.00 L154.70 306.00 L152.40 312.00 L150.00 319.60 L148.80 324.00 L148.20 329.20 L149.80 335.00 L152.00 341.50 L154.50 347.00 L157.00 352.40 L157.80 356.00 L158.20 360.60 L163.80 360.60 L164.20 356.00 L165.00 352.40 L167.50 347.00 L170.00 341.50 L172.20 335.00 L173.80 329.20 L173.20 324.00 L172.00 319.60 L169.60 312.00 L167.30 306.00 L166.20 301.00 L165.30 297.20Z" fill="#ffff00" stroke="#707000" stroke-width="0.4" stroke-linejoin="round"/><line x1="161" y1="307.3" x2="161" y2="351" stroke="#555" stroke-width="0.9"/><rect x="159.90" y="323.7" width="2.2" height="11.00" fill="#000"/><rect x="160.20" y="327.60" width="1.6" height="1.6" fill="#fff"/><rect x="219.5" y="268.5" width="141.0" height="107.0" fill="none" stroke="#858585" stroke-width="1"/><line x1="217.0" y1="275.7" x2="219.5" y2="275.7" stroke="#858585" stroke-width="1"/><text x="214.8" y="278.2" font-family="Liberation Serif" font-size="11.3" fill="#111" text-anchor="end">12</text><line x1="217.0" y1="295" x2="219.5" y2="295" stroke="#858585" stroke-width="1"/><text x="214.8" y="297.6" font-family="Liberation Serif" font-size="11.3" fill="#111" text-anchor="end">10</text><line x1="217.0" y1="314.3" x2="219.5" y2="314.3" stroke="#858585" stroke-width="1"/><text x="214.8" y="317.8" font-family="Liberation Serif" font-size="11.3" fill="#111" text-anchor="end">8</text><line x1="217.0" y1="333.6" x2="219.5" y2="333.6" stroke="#858585" stroke-width="1"/><text x="214.8" y="337.8" font-family="Liberation Serif" font-size="11.3" fill="#111" text-anchor="end">6</text><line x1="217.0" y1="352.1" x2="219.5" y2="352.1" stroke="#858585" stroke-width="1"/><text x="214.8" y="356.7" font-family="Liberation Serif" font-size="11.3" fill="#111" text-anchor="end">4</text><line x1="217.0" y1="370.7" x2="219.5" y2="370.7" stroke="#858585" stroke-width="1"/><text x="214.8" y="375.9" font-family="Liberation Serif" font-size="11.3" fill="#111" text-anchor="end">2</text><line x1="241.6" y1="375.5" x2="241.6" y2="378.0" stroke="#858585" stroke-width="1"/><line x1="273.8" y1="375.5" x2="273.8" y2="378.0" stroke="#858585" stroke-width="1"/><line x1="306.6" y1="375.5" x2="306.6" y2="378.0" stroke="#858585" stroke-width="1"/><line x1="339.3" y1="375.5" x2="339.3" y2="378.0" stroke="#858585" stroke-width="1"/><text x="243.2" y="391.2" font-family="Liberation Serif" font-size="9.4" fill="#111" text-anchor="middle" font-style="italic">Xian</text><text x="274.6" y="391.2" font-family="Liberation Serif" font-size="9.4" fill="#111" text-anchor="middle" font-style="italic">Geng</text><text x="306.3" y="391.2" font-family="Liberation Serif" font-size="9.4" fill="#111" text-anchor="middle">Aus</text><text x="338.2" y="391.2" font-family="Liberation Serif" font-size="9.4" fill="#111" text-anchor="middle">Admix</text><text x="240.9" y="276.2" font-family="Liberation Serif" font-size="11" fill="#111" text-anchor="middle">c</text><text x="267.1" y="276.2" font-family="Liberation Serif" font-size="11" fill="#111" text-anchor="middle">bc</text><text x="306.5" y="276.2" font-family="Liberation Serif" font-size="11" fill="#111" text-anchor="middle">a</text><text x="338.3" y="276.2" font-family="Liberation Serif" font-size="11" fill="#111" text-anchor="middle">b</text><text transform="translate(198.9 320.5) rotate(-90)" font-family="Liberation Serif" font-size="8.7" fill="#111" text-anchor="middle">Average root length (cm)</text><text x="291.6" y="409.7" font-family="Liberation Serif" font-size="24" fill="#111" text-anchor="middle">(d)</text><path d="M241.00 285.50 L240.20 290.00 L239.50 295.00 L238.70 299.90 L236.40 306.00 L233.70 312.30 L231.60 317.00 L229.90 322.30 L229.00 326.00 L228.60 329.80 L229.10 334.00 L231.20 339.70 L234.10 345.00 L236.90 349.70 L238.10 353.00 L238.90 357.20 L239.60 361.00 L240.90 364.60 L241.90 364.60 L243.20 361.00 L243.90 357.20 L244.70 353.00 L245.90 349.70 L248.70 345.00 L251.60 339.70 L253.70 334.00 L254.20 329.80 L253.80 326.00 L252.90 322.30 L251.20 317.00 L249.10 312.30 L246.40 306.00 L244.10 299.90 L243.30 295.00 L242.60 290.00 L241.80 285.50Z" fill="#0000ff" stroke="#000090" stroke-width="0.4" stroke-linejoin="round"/><rect x="240.30" y="321" width="2.2" height="16.20" fill="#000"/><rect x="240.60" y="328.50" width="1.6" height="1.6" fill="#fff"/><path d="M273.00 272.40 L272.90 285.00 L272.60 290.00 L271.90 294.40 L270.10 302.30 L267.50 310.20 L265.10 318.10 L262.80 326.00 L261.10 334.00 L260.70 338.00 L261.00 341.90 L263.10 349.80 L266.80 357.70 L270.00 364.30 L271.70 368.00 L273.20 370.90 L274.20 370.90 L275.70 368.00 L277.40 364.30 L280.60 357.70 L284.30 349.80 L286.40 341.90 L286.70 338.00 L286.30 334.00 L284.60 326.00 L282.30 318.10 L279.90 310.20 L277.30 302.30 L275.50 294.40 L274.80 290.00 L274.50 285.00 L274.40 272.40Z" fill="#ff0000" stroke="#900000" stroke-width="0.4" stroke-linejoin="round"/><line x1="273.7" y1="272.8" x2="273.7" y2="372" stroke="#555" stroke-width="0.9"/><rect x="272.60" y="323.5" width="2.2" height="21.20" fill="#000"/><rect x="272.90" y="334.40" width="1.6" height="1.6" fill="#fff"/><path d="M300.10 276.00 L298.40 281.00 L296.60 286.50 L295.40 293.00 L294.50 299.70 L293.70 305.00 L293.30 310.20 L294.20 314.00 L295.50 318.10 L297.00 322.00 L298.50 326.00 L299.80 330.00 L300.80 334.00 L301.60 338.50 L302.20 343.20 L310.60 343.20 L311.20 338.50 L312.00 334.00 L313.00 330.00 L314.30 326.00 L315.80 322.00 L317.30 318.10 L318.60 314.00 L319.50 310.20 L319.10 305.00 L318.30 299.70 L317.40 293.00 L316.20 286.50 L314.40 281.00 L312.70 276.00Z" fill="#00fa00" stroke="#005000" stroke-width="0.4" stroke-linejoin="round"/><line x1="306.4" y1="276.5" x2="306.4" y2="343.2" stroke="#555" stroke-width="0.9"/><rect x="305.30" y="292.8" width="2.2" height="25.60" fill="#000"/><rect x="305.60" y="311.30" width="1.6" height="1.6" fill="#fff"/><path d="M330.60 311.30 L328.20 313.50 L326.40 317.00 L325.90 321.30 L327.20 324.00 L329.20 327.00 L332.70 330.50 L335.70 334.00 L336.60 337.00 L336.90 339.80 L337.00 354.00 L341.40 354.00 L341.50 339.80 L341.80 337.00 L342.70 334.00 L345.70 330.50 L349.20 327.00 L351.20 324.00 L352.50 321.30 L352.00 317.00 L350.20 313.50 L347.80 311.30Z" fill="#ffff00" stroke="#707000" stroke-width="0.4" stroke-linejoin="round"/><line x1="339.2" y1="311.3" x2="339.2" y2="354" stroke="#555" stroke-width="0.9"/><rect x="338.10" y="319.8" width="2.2" height="8.60" fill="#000"/><rect x="338.40" y="320.50" width="1.6" height="1.6" fill="#fff"/><rect x="396" y="269.5" width="141.29999999999995" height="106.5" fill="none" stroke="#858585" stroke-width="1"/><line x1="393.5" y1="270" x2="396" y2="270" stroke="#858585" stroke-width="1"/><text x="387" y="278.2" font-family="Liberation Serif" font-size="11.3" fill="#111" text-anchor="middle">7</text><line x1="393.5" y1="292.1" x2="396" y2="292.1" stroke="#858585" stroke-width="1"/><text x="387" y="298.7" font-family="Liberation Serif" font-size="11.3" fill="#111" text-anchor="middle">6</text><line x1="393.5" y1="314" x2="396" y2="314" stroke="#858585" stroke-width="1"/><text x="387" y="319.4" font-family="Liberation Serif" font-size="11.3" fill="#111" text-anchor="middle">5</text><line x1="393.5" y1="336" x2="396" y2="336" stroke="#858585" stroke-width="1"/><text x="387" y="339.8" font-family="Liberation Serif" font-size="11.3" fill="#111" text-anchor="middle">4</text><line x1="393.5" y1="358.3" x2="396" y2="358.3" stroke="#858585" stroke-width="1"/><text x="387" y="360.6" font-family="Liberation Serif" font-size="11.3" fill="#111" text-anchor="middle">3</text><line x1="417.7" y1="376" x2="417.7" y2="378.5" stroke="#858585" stroke-width="1"/><line x1="450.3" y1="376" x2="450.3" y2="378.5" stroke="#858585" stroke-width="1"/><line x1="482.7" y1="376" x2="482.7" y2="378.5" stroke="#858585" stroke-width="1"/><line x1="515.3" y1="376" x2="515.3" y2="378.5" stroke="#858585" stroke-width="1"/><text x="419.1" y="391.2" font-family="Liberation Serif" font-size="9.4" fill="#111" text-anchor="middle" font-style="italic">Xian</text><text x="449.8" y="391.2" font-family="Liberation Serif" font-size="9.4" fill="#111" text-anchor="middle" font-style="italic">Geng</text><text x="481.4" y="391.2" font-family="Liberation Serif" font-size="9.4" fill="#111" text-anchor="middle">Aus</text><text x="513.9" y="391.2" font-family="Liberation Serif" font-size="9.4" fill="#111" text-anchor="middle">Admix</text><text x="417.6" y="276.2" font-family="Liberation Serif" font-size="11" fill="#111" text-anchor="middle">a</text><text x="446.6" y="276.2" font-family="Liberation Serif" font-size="11" fill="#111" text-anchor="middle">a</text><text x="478" y="276.2" font-family="Liberation Serif" font-size="11" fill="#111" text-anchor="middle">b</text><text x="513" y="276.2" font-family="Liberation Serif" font-size="11" fill="#111" text-anchor="middle">a</text><text transform="translate(377.3 329.4) rotate(-90)" font-family="Liberation Serif" font-size="9.3" fill="#111" text-anchor="middle">Total root number</text><text x="472" y="408.5" font-family="Liberation Serif" font-size="24" fill="#111" text-anchor="middle">(e)</text><path d="M417.30 279.20 L416.50 285.00 L415.90 290.90 L414.10 297.00 L411.90 304.00 L409.70 310.00 L407.50 317.00 L405.80 323.00 L404.70 330.10 L406.50 335.00 L409.30 340.60 L411.90 346.00 L413.80 351.00 L415.00 356.00 L415.70 360.00 L417.20 364.60 L418.20 364.60 L419.70 360.00 L420.40 356.00 L421.60 351.00 L423.50 346.00 L426.10 340.60 L428.90 335.00 L430.70 330.10 L429.60 323.00 L427.90 317.00 L425.70 310.00 L423.50 304.00 L421.30 297.00 L419.50 290.90 L418.90 285.00 L418.10 279.20Z" fill="#0000ff" stroke="#000090" stroke-width="0.4" stroke-linejoin="round"/><rect x="416.60" y="317" width="2.2" height="18.40" fill="#000"/><rect x="416.90" y="326.20" width="1.6" height="1.6" fill="#fff"/><path d="M449.80 273.30 L449.50 278.00 L449.20 284.00 L448.70 289.60 L447.80 295.00 L446.00 301.40 L443.90 305.00 L441.40 309.20 L439.00 315.00 L437.10 322.30 L437.60 327.00 L439.20 332.70 L442.40 339.00 L445.60 345.80 L447.40 351.00 L448.20 355.00 L448.60 358.90 L448.90 362.00 L449.30 366.00 L449.80 369.00 L450.60 369.00 L451.10 366.00 L451.50 362.00 L451.80 358.90 L452.20 355.00 L453.00 351.00 L454.80 345.80 L458.00 339.00 L461.20 332.70 L462.80 327.00 L463.30 322.30 L461.40 315.00 L459.00 309.20 L456.50 305.00 L454.40 301.40 L452.60 295.00 L451.70 289.60 L451.20 284.00 L450.90 278.00 L450.60 273.30Z" fill="#ff0000" stroke="#900000" stroke-width="0.4" stroke-linejoin="round"/><line x1="450.2" y1="273.1" x2="450.2" y2="372" stroke="#555" stroke-width="0.9"/><rect x="449.10" y="314.4" width="2.2" height="19.60" fill="#000"/><rect x="449.40" y="322.80" width="1.6" height="1.6" fill="#fff"/><path d="M478.90 319.80 L476.50 324.00 L474.00 328.40 L471.80 333.00 L469.80 338.30 L471.80 343.00 L474.30 348.30 L476.40 353.00 L478.10 357.40 L487.50 357.40 L489.20 353.00 L491.30 348.30 L493.80 343.00 L495.80 338.30 L493.80 333.00 L491.60 328.40 L489.10 324.00 L486.70 319.80Z" fill="#00fa00" stroke="#005000" stroke-width="0.4" stroke-linejoin="round"/><line x1="482.8" y1="319.8" x2="482.8" y2="357.4" stroke="#555" stroke-width="0.9"/><rect x="481.70" y="332.6" width="2.2" height="11.40" fill="#000"/><rect x="482.00" y="340.90" width="1.6" height="1.6" fill="#fff"/><path d="M508.10 303.30 L506.90 307.00 L505.50 311.30 L504.00 318.00 L502.60 325.50 L503.90 330.00 L505.50 334.00 L508.20 339.50 L510.60 344.90 L520.40 344.90 L522.80 339.50 L525.50 334.00 L527.10 330.00 L528.40 325.50 L527.00 318.00 L525.50 311.30 L524.10 307.00 L522.90 303.30Z" fill="#ffff00" stroke="#707000" stroke-width="0.4" stroke-linejoin="round"/><line x1="515.5" y1="303.3" x2="515.5" y2="344.9" stroke="#555" stroke-width="0.9"/><rect x="514.40" y="311.3" width="2.2" height="15.70" fill="#000"/><rect x="514.70" y="325.20" width="1.6" height="1.6" fill="#fff"/></svg></body></html>
